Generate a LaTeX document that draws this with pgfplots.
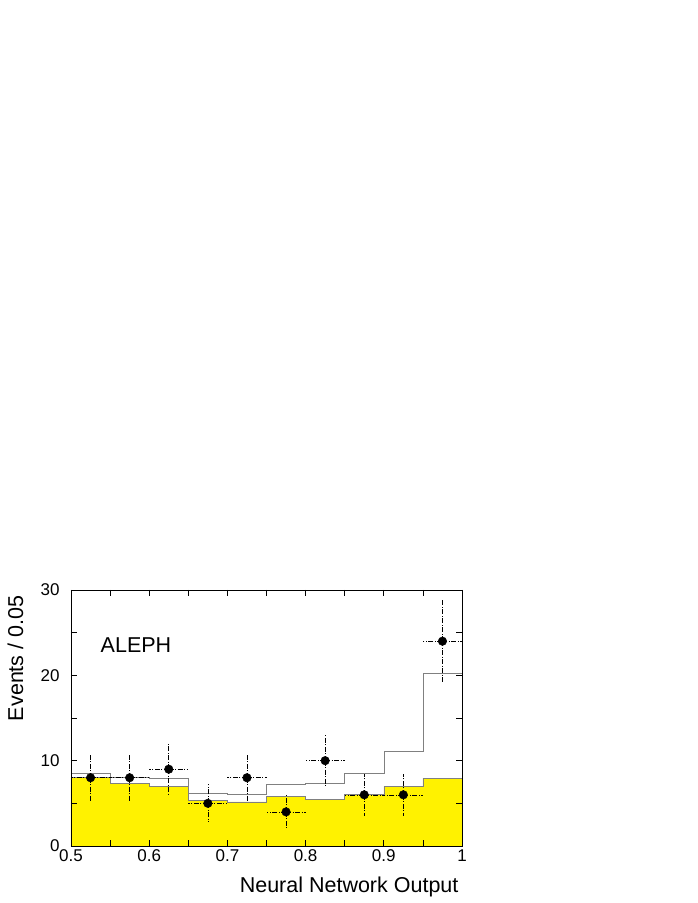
\documentclass[border=0pt]{standalone}
\usepackage{fontspec}
\setmainfont{Liberation Sans}
\usepackage{pgfplots}
\pgfplotsset{compat=1.18}
\begin{document}
\begin{tikzpicture}[x=1pt,y=1pt]
\path[use as bounding box] (-71pt,-57pt) rectangle (627pt,846pt);
\begin{axis}[
  at={(0pt,0pt)}, anchor=south west,
  scale only axis, width=391pt, height=256pt,
  xmin=0.5, xmax=1, ymin=0, ymax=30,
  xtick={0.5,0.6,0.7,0.8,0.9,1},
  xticklabels={0.5,0.6,0.7,0.8,0.9,1},
  minor xtick={0.55,0.65,0.75,0.85,0.95},
  ytick={0,10,20,30},
  minor ytick={5,15,25},
  tick align=inside,
  major tick length=6pt, minor tick length=6pt,
  every tick/.style={black, line width=0.7pt},
  axis line style={line width=0.8pt},
  /pgf/number format/assume math mode=true,
  tick label style={font=\fontsize{17}{17}\selectfont},
  yticklabel style={xshift=-8pt},
  xticklabel style={yshift=-0.5pt},
  xlabel={Neural Network Output},
  ylabel={Events / 0.05},
  label style={font=\fontsize{21.5}{21.5}\selectfont},
  xlabel style={at={(rel axis cs:1,0)}, anchor=base east, yshift=-46pt},
  ylabel style={at={(rel axis cs:0,1)}, anchor=east, xshift=-2pt, yshift=55.5pt},
  axis on top,
  clip=true,
]
\addplot[const plot, fill=yellow, draw=gray, line width=0.6pt] coordinates {
  (0.5,8.0) (0.55,7.35) (0.6,7.0) (0.65,5.36) (0.7,5.16)
  (0.75,5.83) (0.8,5.48) (0.85,6.06) (0.9,7.0) (0.95,7.94) (1.0,7.94)
} \closedcycle;
\addplot[const plot, gray, line width=0.6pt] coordinates {
  (0.5,8.56) (0.55,8.0) (0.6,7.94) (0.65,6.18) (0.7,6.1)
  (0.75,7.23) (0.8,7.39) (0.85,8.56) (0.9,11.1) (0.95,20.26) (1.0,20.26)
};
\addplot[only marks, mark=*, mark size=4.3pt, black,
  error bars/.cd, x dir=both, x explicit, y dir=both, y explicit,
  error mark=none,
  error bar style={black, line width=0.5pt, dash pattern=on 5pt off 1.5pt on 1pt off 1.5pt}]
coordinates {
  (0.525,8) +- (0.025,2.83)
  (0.575,8) +- (0.025,2.83)
  (0.625,9) +- (0.025,3.0)
  (0.675,5) +- (0.025,2.24)
  (0.725,8) +- (0.025,2.83)
  (0.775,4) +- (0.025,2.0)
  (0.825,10) +- (0.025,3.16)
  (0.875,6) +- (0.025,2.45)
  (0.925,6) +- (0.025,2.45)
  (0.975,24) +- (0.025,4.9)
};
\node[anchor=west, font=\fontsize{21.5}{21.5}\selectfont] at (axis cs:0.5335,23.6) {ALEPH};
\end{axis}
\end{tikzpicture}
\end{document}
